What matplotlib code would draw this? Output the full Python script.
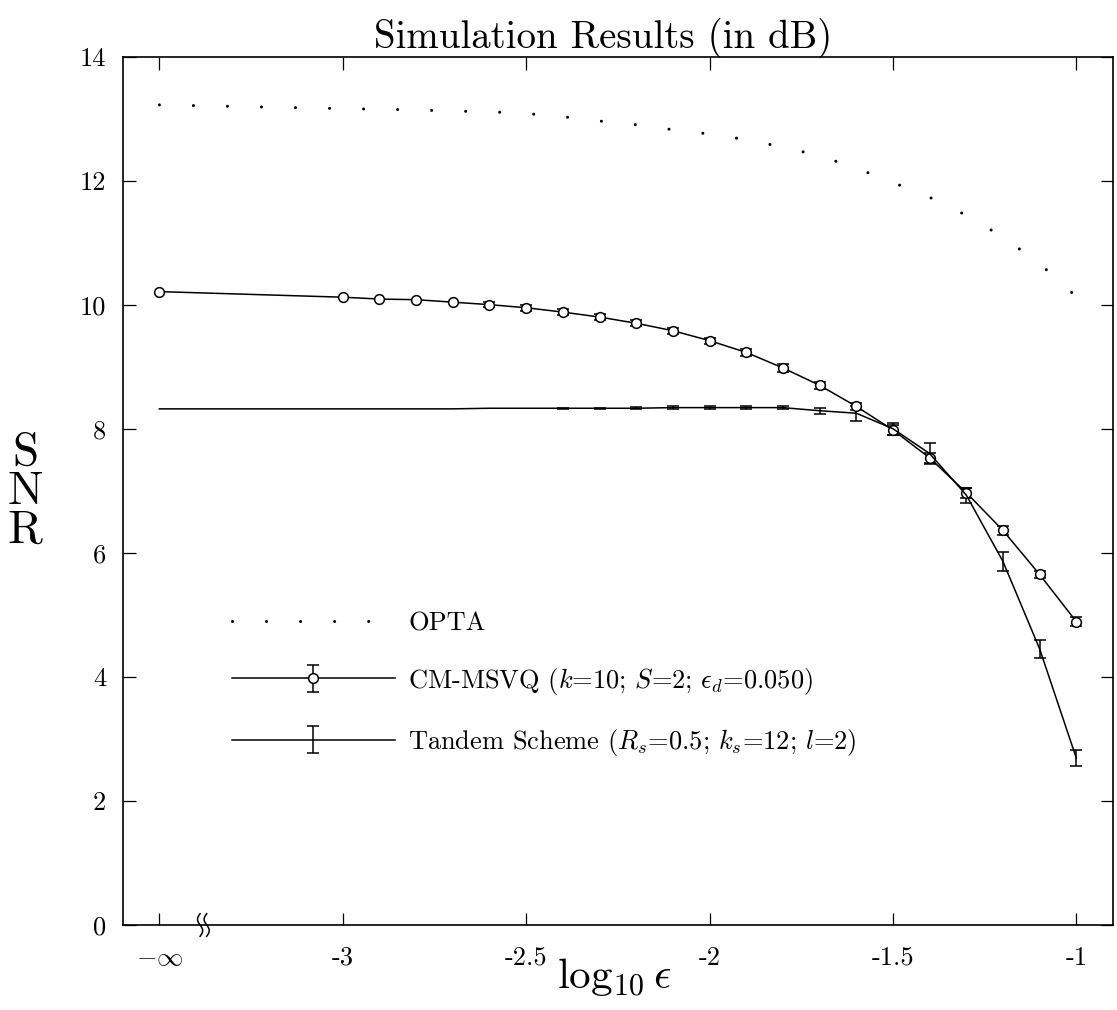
import numpy as np
import matplotlib
matplotlib.use("Agg")
import matplotlib.pyplot as plt
from matplotlib.transforms import blended_transform_factory

plt.rcParams['font.family'] = ['cmr10', 'DejaVu Serif']
plt.rcParams['mathtext.fontset'] = 'cm'
plt.rcParams['axes.unicode_minus'] = False
plt.rcParams['axes.formatter.use_mathtext'] = True
plt.rcParams['lines.scale_dashes'] = False

# ---- data ----
NEG_INF_POS = -3.5  # where "-infinity" is drawn on the axis
x_vals = [NEG_INF_POS, -3.0, -2.9, -2.8, -2.7, -2.6, -2.5, -2.4, -2.3, -2.2, -2.1,
          -2.0, -1.9, -1.8, -1.7, -1.6, -1.5, -1.4, -1.3, -1.2, -1.1, -1.0]

opta = [13.22, 13.16, 13.15, 13.14, 13.12, 13.11, 13.08, 13.03, 12.96, 12.90, 12.82,
        12.75, 12.66, 12.54, 12.40, 12.20, 11.97, 11.73, 11.44, 11.09, 10.66, 10.13]

cm_msvq = [10.21, 10.12, 10.09, 10.08, 10.04, 10.00, 9.95, 9.88, 9.80, 9.70, 9.58,
           9.42, 9.23, 8.98, 8.70, 8.36, 7.98, 7.53, 6.97, 6.36, 5.65, 4.89]
cm_err = [np.nan, np.nan, np.nan, np.nan, np.nan, 0.04, 0.05, 0.05, 0.05, 0.05, 0.05,
          0.05, 0.05, 0.06, 0.06, 0.06, 0.08, 0.08, 0.08, 0.07, 0.06, 0.07]

tandem = [8.32, 8.32, 8.32, 8.32, 8.32, 8.33, 8.33, 8.33, 8.33, 8.33, 8.34,
          8.34, 8.34, 8.34, 8.29, 8.25, 8.00, 7.60, 6.93, 5.86, 4.45, 2.69]
tandem_err = [np.nan, np.nan, np.nan, np.nan, np.nan, np.nan, np.nan, 0.01, 0.01, 0.02, 0.02,
              0.02, 0.02, 0.02, 0.05, 0.12, 0.10, 0.17, 0.12, 0.16, 0.14, 0.13]

x_ticks = [NEG_INF_POS, -3.0, -2.5, -2.0, -1.5, -1.0]
x_ticklabels = [r'$-\infty$', '-3', '-2.5', '-2', '-1.5', '-1']
y_ticks = [0, 2, 4, 6, 8, 10, 12, 14]
y_ticklabels = ['0', '2', '4', '6', '8', '10', '12', '14']

labels = ['OPTA',
          r'CM-MSVQ ($k$=10; $S$=2; $\epsilon_d$=0.050)',
          r'Tandem Scheme ($R_s$=0.5; $k_s$=12; $l$=2)']

# ---- figure ----
W, H = 1117, 1010
fig = plt.figure(figsize=(W / 100, H / 100), dpi=100)
ax = fig.add_axes([122.7 / W, 1 - 925 / H, (1113 - 122.7) / W, (925 - 56.5) / H])

h_opta, = ax.plot(x_vals, opta, color='black', lw=2.2,
                  linestyle=(0, (0.01, 24.5)), dash_capstyle='round', label=labels[0])
h_cm = ax.errorbar(x_vals, cm_msvq, yerr=cm_err, fmt='-o', color='black', lw=1.1,
                   ms=7, mfc='white', mec='black', mew=1.1, capsize=4.5,
                   elinewidth=1.1, capthick=1.1, label=labels[1])
h_td = ax.errorbar(x_vals, tandem, yerr=tandem_err, fmt='-', color='black', lw=1.1,
                   capsize=4.5, elinewidth=1.1, capthick=1.1, label=labels[2])

ax.set_xlim(-3.6, -0.9)
ax.set_ylim(0, 14)
ax.set_xticks(x_ticks)
ax.set_xticklabels(x_ticklabels)
ax.set_yticks(y_ticks)
ax.set_yticklabels(y_ticklabels)
ax.tick_params(direction='in', length=9, width=0.9, top=True, right=True,
               labelsize=19, pad=12)
ax.tick_params(axis='x', pad=15)
for s in ax.spines.values():
    s.set_linewidth(1.2)

# axis break mark on the bottom axis
tr = blended_transform_factory(ax.transData, ax.transAxes)
t = np.linspace(0, 1, 40)
xb = -3.38
for off in (-0.009, 0.009):
    ax.plot(xb + off + 0.007 * np.sin(2 * np.pi * t), -0.013 + 0.026 * t,
            color='black', lw=1.1, transform=tr, clip_on=False)

leg = ax.legend(handles=[h_opta, h_cm, h_td], labels=labels, loc='upper left',
                bbox_to_anchor=(0.110, 0.361), frameon=False, fontsize=19,
                handlelength=6.2, handletextpad=0.5, labelspacing=1.15,
                borderpad=0, borderaxespad=0)

fig.text(603 / W, 1 - 48 / H, 'Simulation Results (in dB)', ha='center',
         va='baseline', fontsize=28)
for ch, yy in zip('SNR', (453, 492, 531)):
    fig.text(25 / W, 1 - yy / H, ch, ha='center', va='center', fontsize=34)
fig.text(614 / W, 1 - 977 / H, r'$\log_{10}\epsilon$', ha='center', va='center',
         fontsize=31)

fig.savefig('out.png', dpi=100)
